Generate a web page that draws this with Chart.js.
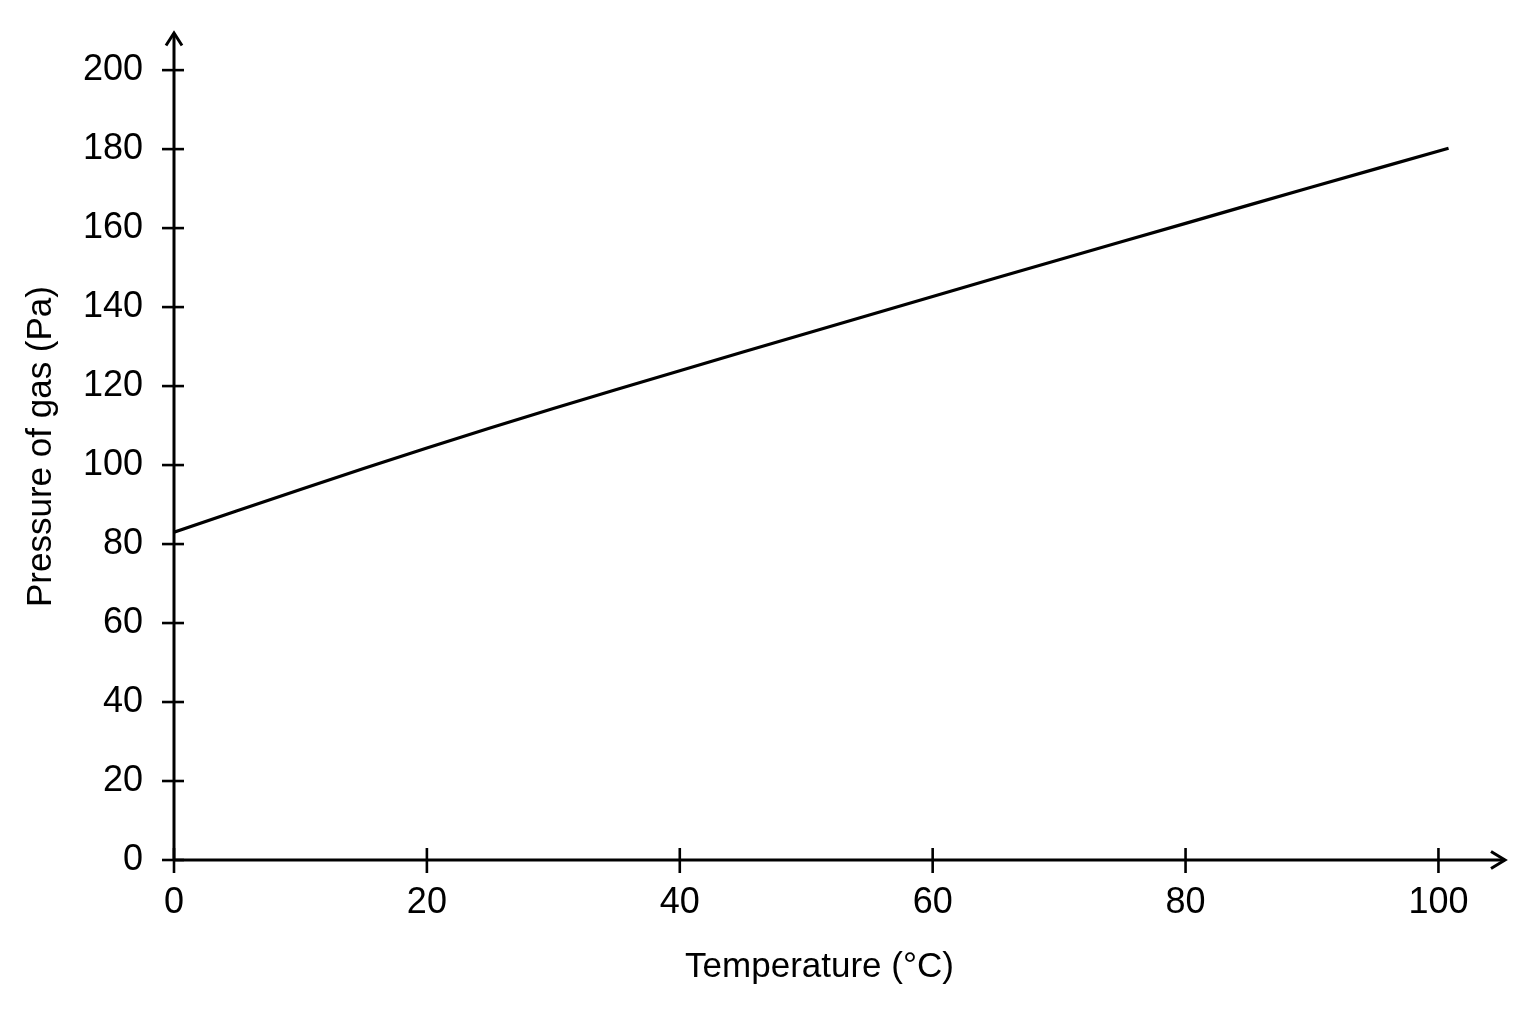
<!DOCTYPE html>
<html>
<head>
<meta charset="utf-8">
<script src="https://cdn.jsdelivr.net/npm/chart.js@4/dist/chart.umd.min.js"></script>
<style>
  html, body { margin: 0; padding: 0; background: #ffffff; }
  #wrap { width: 1536px; height: 1024px; }
</style>
</head>
<body>
<div id="wrap"><canvas id="c" width="1536" height="1024"></canvas></div>
<script>
// Data
const temperatures = [0, 10, 20, 30, 40, 50, 60, 70, 80, 90, 100.8];
const pressures    = [83.0, 93.8, 104.3, 114.3, 123.9, 133.3, 142.7, 152.0, 161.2, 170.4, 180.2];
const xTickValues = [0, 20, 40, 60, 80, 100];
const yTickValues = [0, 20, 40, 60, 80, 100, 120, 140, 160, 180, 200];
const xTitle = 'Temperature (°C)';
const yTitle = 'Pressure of gas (Pa)';

const FONT = "'Liberation Sans', Arial, Helvetica, sans-serif";

const points = temperatures.map((t, i) => ({ x: t, y: pressures[i] }));

const axesPlugin = {
  id: 'arrowAxes',
  beforeDatasetsDraw(chart) {
    const { ctx, scales } = chart;
    const xs = scales.x, ys = scales.y;
    const x0 = xs.getPixelForValue(0);
    const y0 = ys.getPixelForValue(0);
    const yTop = ys.getPixelForValue(ys.max);
    const xEnd = chart.width - 31;
    ctx.save();
    ctx.strokeStyle = '#000';
    ctx.lineWidth = 3;
    ctx.lineCap = 'butt';
    // y axis
    ctx.beginPath();
    ctx.moveTo(x0, y0);
    ctx.lineTo(x0, yTop);
    ctx.stroke();
    // x axis
    ctx.beginPath();
    ctx.moveTo(x0, y0);
    ctx.lineTo(xEnd, y0);
    ctx.stroke();
    // arrow heads
    ctx.beginPath();
    ctx.moveTo(x0 - 8, yTop + 12.5);
    ctx.lineTo(x0, yTop);
    ctx.lineTo(x0 + 8, yTop + 12.5);
    ctx.stroke();
    ctx.beginPath();
    ctx.moveTo(xEnd - 14, y0 - 8.5);
    ctx.lineTo(xEnd, y0);
    ctx.lineTo(xEnd - 14, y0 + 8.5);
    ctx.stroke();
    // tick marks crossing the axes
    ctx.lineWidth = 2.6;
    yTickValues.forEach(v => {
      const py = ys.getPixelForValue(v);
      ctx.beginPath();
      ctx.moveTo(x0 - 12, py);
      ctx.lineTo(x0 + 10, py);
      ctx.stroke();
    });
    xTickValues.forEach(v => {
      const px = xs.getPixelForValue(v);
      ctx.beginPath();
      ctx.moveTo(px, y0 - 12);
      ctx.lineTo(px, y0 + 13);
      ctx.stroke();
    });
    ctx.restore();
  }
};

new Chart(document.getElementById('c'), {
  type: 'line',
  data: {
    datasets: [{
      data: points,
      borderColor: '#000000',
      borderWidth: 3.2,
      pointRadius: 0,
      fill: false,
      tension: 0.4
    }]
  },
  options: {
    responsive: false,
    animation: false,
    devicePixelRatio: 1,
    layout: { padding: { left: 0, top: 33, right: 71, bottom: 0 } },
    plugins: { legend: { display: false }, tooltip: { enabled: false } },
    scales: {
      x: {
        type: 'linear',
        min: 0,
        max: 102.1,
        grid: { display: false },
        border: { display: false },
        afterBuildTicks: s => { s.ticks = xTickValues.map(v => ({ value: v })); },
        afterFit: s => { s.height = 164; },
        ticks: {
          includeBounds: false,
          padding: 13,
          color: '#000',
          maxRotation: 0,
          font: { family: FONT, size: 36 }
        },
        title: {
          display: true,
          text: xTitle,
          color: '#000',
          font: { family: FONT, size: 35 },
          padding: { top: 0, bottom: 36 }
        }
      },
      y: {
        type: 'linear',
        min: 0,
        max: 209.4,
        grid: { display: false },
        border: { display: false },
        afterBuildTicks: s => { s.ticks = yTickValues.map(v => ({ value: v })); },
        afterFit: s => { s.width = 174; },
        ticks: {
          includeBounds: false,
          padding: 23,
          color: '#000',
          font: { family: FONT, size: 36, lineHeight: 0.5 }
        },
        title: {
          display: true,
          text: yTitle,
          color: '#000',
          font: { family: FONT, size: 35 },
          padding: { top: 20, bottom: 0 }
        }
      }
    }
  },
  plugins: [axesPlugin]
});
</script>
</body>
</html>
